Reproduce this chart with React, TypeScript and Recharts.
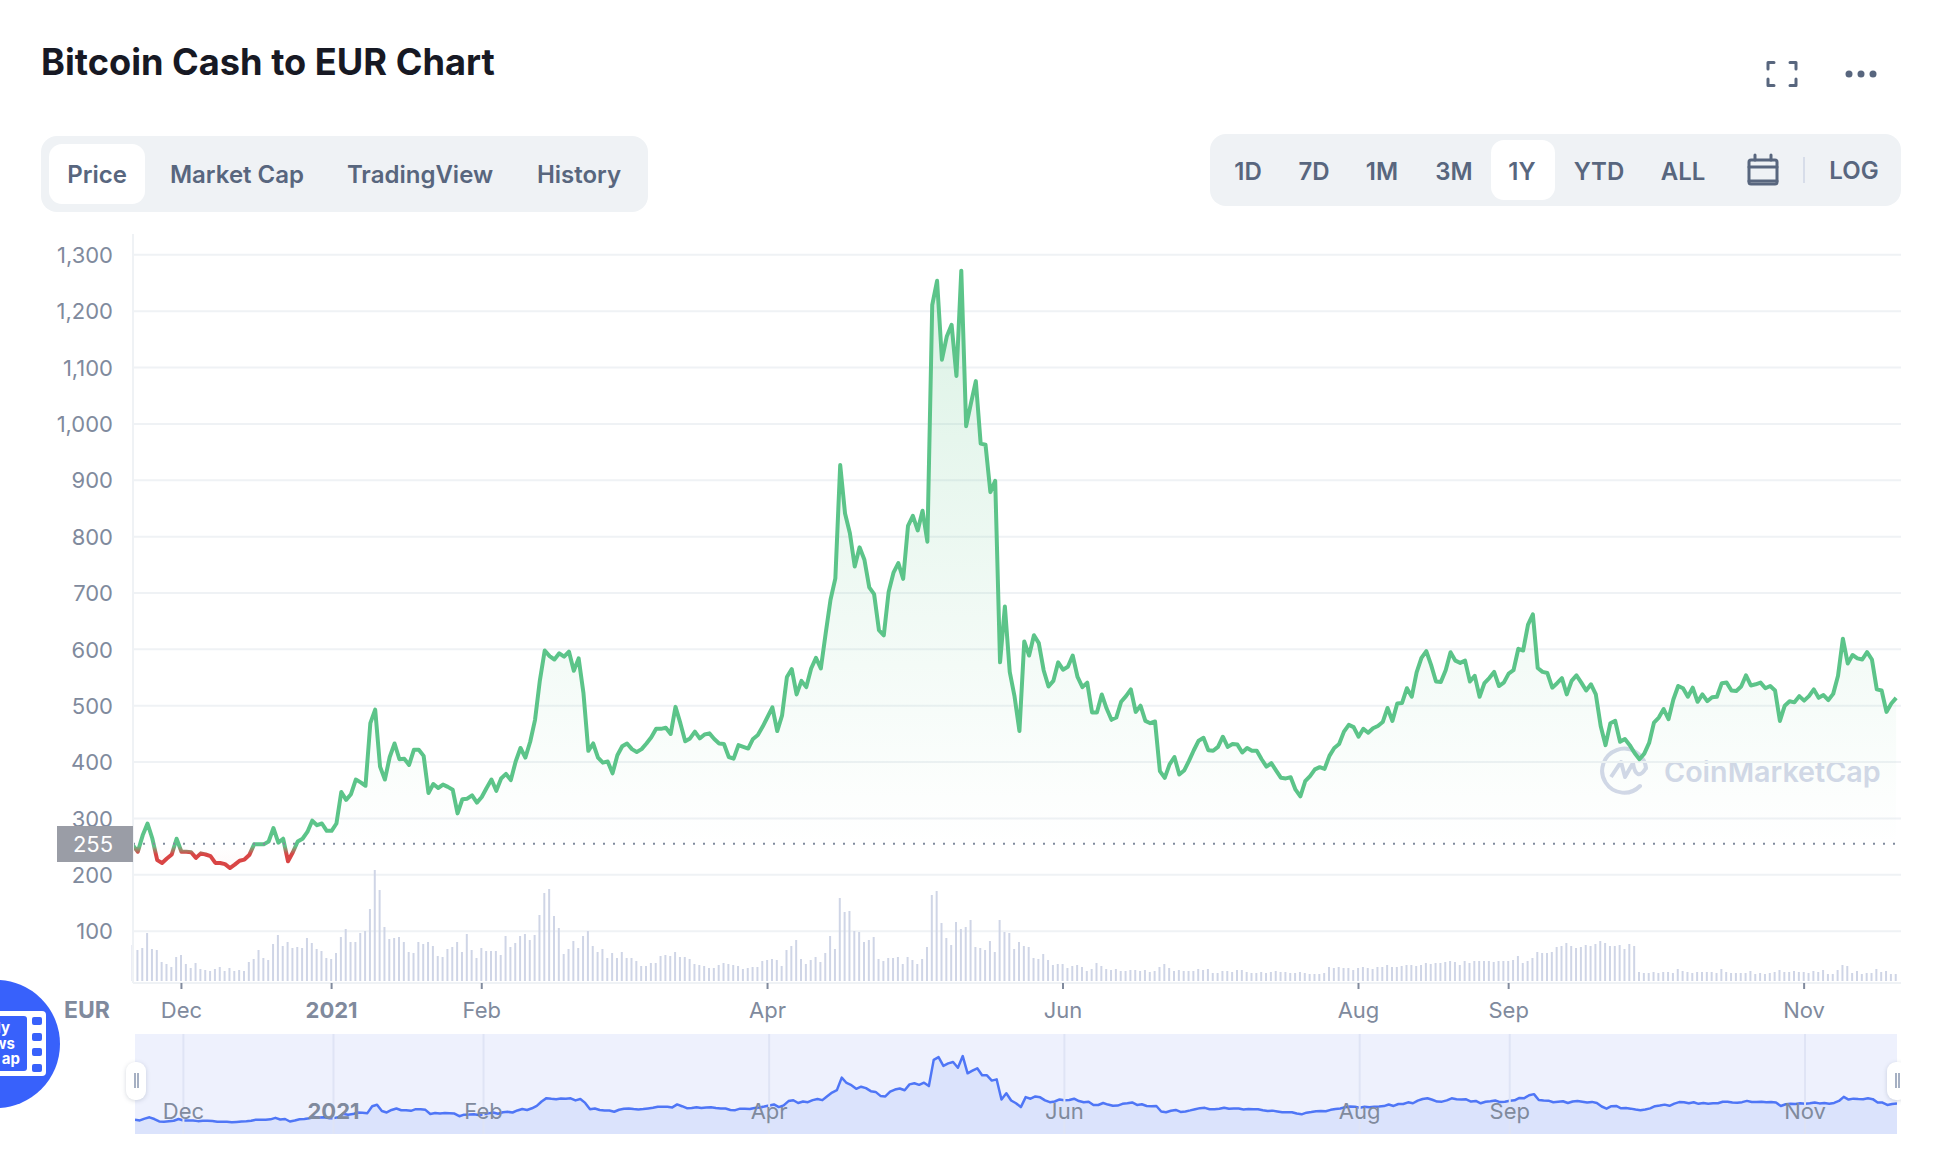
import { Area, AreaChart, Bar, CartesianGrid, ComposedChart, ReferenceLine, XAxis, YAxis } from 'recharts'

const FONT = 'Inter, sans-serif'
const GRID = '#eff2f5'
const MUTED = '#808a9d'
const SLATE = '#58667e'
const GREEN = '#5cc489'
const RED = '#d94545'

// daily close in EUR (21 Nov 2020 onwards)
const prices = [
  252, 241, 270, 291, 264, 226, 221, 229, 236, 264,
  241, 241, 240, 230, 238, 236, 233, 221, 221, 219,
  212, 218, 225, 227, 235, 254, 254, 254, 259, 283,
  257, 264, 224, 240, 259, 264, 276, 296, 288, 291,
  278, 278, 291, 347, 333, 343, 369, 364, 358, 469,
  493, 392, 369, 409, 433, 405, 406, 395, 422, 422,
  411, 345, 361, 354, 360, 356, 351, 309, 334, 335,
  341, 328, 338, 354, 369, 349, 371, 379, 368, 401,
  425, 408, 436, 475, 545, 598, 588, 582, 593, 587,
  596, 562, 584, 522, 420, 433, 408, 399, 401, 380,
  412, 428, 433, 423, 418, 423, 433, 444, 459, 459,
  461, 450, 498, 469, 437, 442, 454, 442, 449, 451,
  441, 433, 432, 409, 406, 430, 427, 424, 441, 448,
  463, 480, 497, 455, 483, 551, 565, 520, 544, 533,
  566, 585, 566, 628, 688, 726, 927, 841, 806, 747,
  781, 759, 710, 698, 634, 625, 702, 736, 753, 725,
  819, 837, 811, 846, 791, 1211, 1254, 1114, 1155, 1176,
  1085, 1272, 996, 1037, 1076, 965, 963, 879, 899, 577,
  676, 560, 516, 455, 614, 589, 625, 611, 563, 534,
  544, 577, 564, 569, 589, 551, 533, 541, 488, 488,
  520, 495, 475, 479, 507, 517, 529, 489, 500, 473,
  469, 472, 384, 372, 396, 409, 378, 385, 402, 421,
  438, 443, 421, 420, 427, 445, 427, 432, 431, 417,
  425, 420, 420, 405, 392, 398, 385, 372, 371, 373,
  351, 339, 366, 375, 387, 391, 388, 411, 425, 432,
  454, 466, 462, 445, 459, 452, 460, 464, 471, 496,
  473, 504, 505, 531, 516, 559, 585, 597, 572, 543,
  542, 563, 595, 580, 576, 580, 543, 553, 516, 540,
  549, 560, 535, 541, 557, 563, 601, 598, 644, 662,
  567, 560, 558, 532, 540, 549, 520, 544, 554, 541,
  527, 538, 520, 464, 430, 469, 473, 436, 441, 430,
  416, 405, 415, 434, 470, 479, 494, 476, 511, 535,
  531, 516, 532, 507, 520, 508, 515, 516, 540, 541,
  527, 526, 534, 554, 536, 538, 541, 531, 535, 527,
  473, 500, 508, 506, 517, 509, 517, 529, 514, 519,
  510, 521, 553, 619, 575, 590, 584, 582, 595, 582,
  529, 527, 489, 504, 514,
]

// traded volume, relative units
const volumes = [
  108, 93, 99, 144, 96, 93, 57, 51, 42, 72,
  78, 51, 39, 54, 36, 33, 30, 36, 42, 30,
  39, 30, 33, 30, 57, 66, 93, 69, 63, 111,
  138, 105, 117, 99, 102, 99, 129, 114, 96, 90,
  69, 66, 84, 132, 156, 117, 117, 144, 150, 216,
  333, 273, 162, 126, 129, 132, 117, 87, 84, 117,
  111, 117, 105, 75, 72, 96, 102, 117, 87, 141,
  93, 69, 99, 90, 90, 90, 78, 135, 102, 114,
  135, 141, 123, 138, 198, 264, 276, 195, 159, 81,
  96, 120, 99, 135, 150, 105, 87, 96, 69, 84,
  69, 87, 69, 69, 60, 45, 45, 54, 54, 75,
  78, 75, 87, 72, 72, 66, 51, 48, 45, 39,
  39, 48, 54, 51, 48, 45, 36, 39, 42, 42,
  60, 63, 66, 63, 45, 93, 105, 123, 66, 51,
  63, 72, 57, 84, 135, 96, 249, 207, 210, 150,
  147, 117, 123, 132, 66, 60, 69, 69, 72, 51,
  72, 63, 51, 66, 102, 258, 270, 174, 129, 108,
  177, 156, 162, 183, 102, 99, 93, 120, 87, 183,
  147, 144, 96, 117, 105, 102, 69, 66, 81, 63,
  48, 51, 51, 39, 45, 48, 42, 30, 36, 54,
  45, 36, 33, 36, 30, 30, 33, 33, 30, 33,
  27, 30, 42, 51, 39, 30, 33, 30, 30, 30,
  36, 33, 36, 24, 24, 30, 30, 27, 33, 33,
  27, 24, 24, 27, 24, 27, 30, 27, 27, 24,
  24, 27, 24, 21, 21, 21, 24, 42, 39, 42,
  39, 39, 33, 39, 42, 39, 36, 42, 42, 48,
  42, 42, 45, 48, 48, 45, 48, 54, 51, 54,
  54, 57, 60, 57, 48, 60, 54, 60, 60, 60,
  60, 57, 60, 60, 60, 63, 75, 54, 60, 69,
  87, 84, 84, 87, 102, 105, 114, 105, 99, 102,
  108, 105, 111, 120, 114, 105, 105, 108, 96, 111,
  105, 27, 24, 24, 27, 24, 27, 27, 24, 36,
  30, 27, 24, 27, 27, 27, 27, 24, 36, 27,
  24, 24, 24, 24, 30, 21, 24, 21, 24, 27,
  33, 27, 27, 30, 27, 27, 24, 30, 27, 33,
  21, 21, 33, 48, 45, 24, 30, 21, 24, 24,
  36, 27, 30, 21, 21,
]

const priceTicks = [100, 200, 300, 400, 500, 600, 700, 800, 900, 1000, 1100, 1200, 1300]
const dateTicks = [10, 41, 72, 131, 192, 253, 284, 345]
const dateLabels = ['Dec', '2021', 'Feb', 'Apr', 'Jun', 'Aug', 'Sep', 'Nov']
const openPrice = 255

const leftTabs = [
  { label: 'Price', x: 97 },
  { label: 'Market Cap', x: 237 },
  { label: 'TradingView', x: 420 },
  { label: 'History', x: 579 },
]
const rangeTabs = [
  { label: '1D', x: 1248, y: 172 },
  { label: '7D', x: 1314, y: 172 },
  { label: '1M', x: 1382, y: 172 },
  { label: '3M', x: 1454, y: 172 },
  { label: '1Y', x: 1522, y: 172 },
  { label: 'YTD', x: 1599, y: 172 },
  { label: 'ALL', x: 1683, y: 172 },
  { label: 'LOG', x: 1854, y: 171 },
]

const rows = prices.map((price, i) => ({ day: i, price, volume: volumes[i] }))

function Label({ x, y, children, size = 24, weight = 600, color = SLATE }: any) {
  return (
    <div
      style={{
        position: 'absolute',
        left: x,
        top: y,
        transform: 'translate(-50%, -50%)',
        fontFamily: FONT,
        fontSize: size,
        fontWeight: weight,
        color,
        whiteSpace: 'nowrap',
        lineHeight: 1,
      }}
    >
      {children}
    </div>
  )
}

function Box({ x, y, w, h, r, bg, shadow }: any) {
  return (
    <div
      style={{
        position: 'absolute',
        left: x,
        top: y,
        width: w,
        height: h,
        borderRadius: r,
        background: bg,
        boxShadow: shadow,
      }}
    />
  )
}

function DateTick({ x, y, payload }: any) {
  const label = dateLabels[dateTicks.indexOf(payload.value)]
  return (
    <text
      x={x}
      y={y}
      dy={27}
      textAnchor="middle"
      fontFamily={FONT}
      fontSize={22}
      fontWeight={label === '2021' ? 700 : 400}
      fill={MUTED}
    >
      {label}
    </text>
  )
}

function Watermark() {
  return (
    <svg width={1944} height={1156} style={{ position: 'absolute', left: 0, top: 0 }}>
      <path
        d="M1640 786 A22 22 0 1 1 1646 768"
        fill="none"
        stroke="#d3d8e8"
        strokeWidth={4}
        strokeLinecap="round"
      />
      <path
        d="M1611 777 L1621 762 L1625 777 L1633 763 C1635 776 1640 778 1646 768"
        fill="none"
        stroke="#d3d8e8"
        strokeWidth={4}
        strokeLinejoin="round"
      />
      <text x={1664} y={782} fontFamily={FONT} fontSize={28.7} fontWeight={600} fill="#d3d8e8">
        CoinMarketCap
      </text>
    </svg>
  )
}

function Icons() {
  return (
    <svg width={1944} height={1156} style={{ position: 'absolute', left: 0, top: 0 }}>
      <g fill="none" stroke={SLATE} strokeWidth={3} strokeLinecap="round" strokeLinejoin="round">
        <path d="M1768 69 V62.5 H1774" />
        <path d="M1790 62.5 H1796 V69" />
        <path d="M1768 79 V85.5 H1774" />
        <path d="M1790 85.5 H1796 V79" />
        <rect x={1749} y={160} width={28} height={24} rx={2} />
        <path d="M1749 167 H1777" />
        <path d="M1755 155 V160" />
        <path d="M1771 155 V160" />
        <path d="M1749 181 H1777" />
      </g>
      <circle cx={1849} cy={74} r={3.5} fill={SLATE} />
      <circle cx={1861} cy={74} r={3.5} fill={SLATE} />
      <circle cx={1873} cy={74} r={3.5} fill={SLATE} />
      <path d="M1804 157 V183" stroke="#cfd6e4" strokeWidth={1.5} />
      <circle cx={-4} cy={1044} r={64} fill="#3861fb" />
      <rect x={-30} y={1011} width={76} height={65} rx={4} fill="#fff" />
      <rect x={-30} y={1016} width={57} height={55} rx={3} fill="#3861fb" />
      <rect x={32} y={1017} width={10} height={8} rx={2} fill="#3861fb" />
      <rect x={32} y={1033} width={10} height={8} rx={2} fill="#3861fb" />
      <rect x={32} y={1048} width={10} height={8} rx={2} fill="#3861fb" />
      <rect x={32} y={1064} width={10} height={8} rx={2} fill="#3861fb" />
      <g fontFamily={FONT} fontSize={15} fontWeight={700} fill="#fff" textAnchor="end">
        <text x={10} y={1033}>ly</text>
        <text x={15} y={1049}>ws</text>
        <text x={20} y={1064}>ap</text>
      </g>
    </svg>
  )
}

function MainChart() {
  return (
    <div style={{ position: 'absolute', left: 0, top: 0 }}>
      <ComposedChart
        width={1944}
        height={1040}
        data={rows}
        margin={{ top: 234, right: 43, bottom: 7, left: 0 }}
      >
        <defs>
          <linearGradient id="priceStroke" gradientUnits="userSpaceOnUse" x1={0} y1={0} x2={0} y2={1156}>
            <stop offset={846 / 1156} stopColor={GREEN} />
            <stop offset={854 / 1156} stopColor={RED} />
          </linearGradient>
          <linearGradient id="priceFill" gradientUnits="userSpaceOnUse" x1={0} y1={0} x2={0} y2={1156}>
            <stop offset={272 / 1156} stopColor={GREEN} stopOpacity={0.36} />
            <stop offset={844 / 1156} stopColor={GREEN} stopOpacity={0} />
            <stop offset={845 / 1156} stopColor={RED} stopOpacity={0} />
            <stop offset={885 / 1156} stopColor={RED} stopOpacity={0.1} />
          </linearGradient>
        </defs>
        <CartesianGrid vertical={false} stroke={GRID} strokeWidth={2} syncWithTicks />
        <XAxis
          dataKey="day"
          type="number"
          domain={[0, 365]}
          ticks={dateTicks}
          interval={0}
          height={50}
          tick={<DateTick />}
          tickSize={6}
          tickLine={{ stroke: MUTED, strokeWidth: 2 }}
          axisLine={{ stroke: GRID, strokeWidth: 2 }}
        />
        <YAxis
          domain={[8, 1337]}
          ticks={priceTicks}
          interval={0}
          width={133}
          tickLine={false}
          tickMargin={14}
          axisLine={{ stroke: GRID, strokeWidth: 2 }}
          tick={{ fontFamily: FONT, fontSize: 22, fill: MUTED, dy: 0.4 }}
          tickFormatter={(v: number) => v.toLocaleString('en-US')}
        />
        <YAxis yAxisId="vol" hide orientation="right" domain={[-6, 2241]} />
        <Bar yAxisId="vol" dataKey="volume" fill="#cfd5e6" barSize={2} isAnimationActive={false} />
        <ReferenceLine
          segment={[{ x: 0, y: openPrice }, { x: 364, y: openPrice }]}
          stroke={MUTED}
          strokeWidth={2}
          strokeDasharray="2 8"
        />
        <Area
          type="linear"
          dataKey="price"
          baseValue={openPrice}
          stroke="url(#priceStroke)"
          strokeWidth={4}
          strokeLinejoin="round"
          fill="url(#priceFill)"
          dot={false}
          activeDot={false}
          isAnimationActive={false}
        />
      </ComposedChart>
    </div>
  )
}

function Navigator() {
  return (
    <div style={{ position: 'absolute', left: 135, top: 1034, width: 1762, height: 100, background: '#eef1fd' }}>
      <AreaChart width={1762} height={100} data={rows} margin={{ top: 0, right: 0, bottom: 0, left: 0 }}>
        <XAxis dataKey="day" type="number" domain={[0, 364]} hide />
        <YAxis domain={[24, 1625]} hide />
        <Area
          type="linear"
          dataKey="price"
          stroke="#4f76f6"
          strokeWidth={2.5}
          strokeLinejoin="round"
          fill="#dbe3fc"
          fillOpacity={1}
          dot={false}
          activeDot={false}
          isAnimationActive={false}
        />
        {dateTicks.map((t, i) => (
          <ReferenceLine
            key={t}
            x={t}
            stroke="#dfe4f5"
            strokeWidth={2}
            label={{
              value: dateLabels[i],
              position: 'insideBottom',
              offset: 15.5,
              fontFamily: FONT,
              fontSize: 22,
              fontWeight: dateLabels[i] === '2021' ? 700 : 400,
              fill: MUTED,
            }}
          />
        ))}
      </AreaChart>
    </div>
  )
}

function Handle({ x }: { x: number }) {
  return (
    <>
      <Box x={x} y={1062} w={20} h={38} r={9} bg="#fff" shadow="0 1px 4px rgba(88,102,126,0.25)" />
      <Box x={x + 8} y={1073} w={1.5} h={15} r={0} bg="#a6b0c3" />
      <Box x={x + 11} y={1073} w={1.5} h={15} r={0} bg="#a6b0c3" />
    </>
  )
}

export default function App() {
  return (
    <div style={{ position: 'absolute', left: 0, top: 0, width: 1944, height: 1156, overflow: 'hidden', background: '#fff' }}>
      <div
        style={{
          position: 'absolute',
          left: 41,
          top: 41,
          fontFamily: FONT,
          fontSize: 36.2,
          fontWeight: 700,
          color: '#171924',
          whiteSpace: 'nowrap',
          lineHeight: '42px',
        }}
      >
        Bitcoin Cash to EUR Chart
      </div>

      <Box x={41} y={136} w={607} h={76} r={16} bg={GRID} />
      <Box x={49} y={144} w={96} h={60} r={13} bg="#fff" />
      {leftTabs.map((t) => (
        <Label key={t.label} x={t.x} y={175}>
          {t.label}
        </Label>
      ))}

      <Box x={1210} y={134} w={691} h={72} r={16} bg={GRID} />
      <Box x={1491} y={140} w={64} h={60} r={13} bg="#fff" />
      {rangeTabs.map((t) => (
        <Label key={t.label} x={t.x} y={t.y}>
          {t.label}
        </Label>
      ))}

      <Watermark />
      <MainChart />

      <Box x={57} y={826} w={76} h={36} r={0} bg="#9a9da6" />
      <Label x={93} y={844} size={22} weight={400} color="#fff">
        {openPrice}
      </Label>
      <Label x={87} y={1010} size={23} weight={700} color={MUTED}>
        EUR
      </Label>

      <Navigator />
      <Handle x={126} />
      <div style={{ position: 'absolute', left: 0, top: 0, width: 1901, height: 1156, overflow: 'hidden' }}>
        <Handle x={1887} />
      </div>
      <Icons />
    </div>
  )
}
